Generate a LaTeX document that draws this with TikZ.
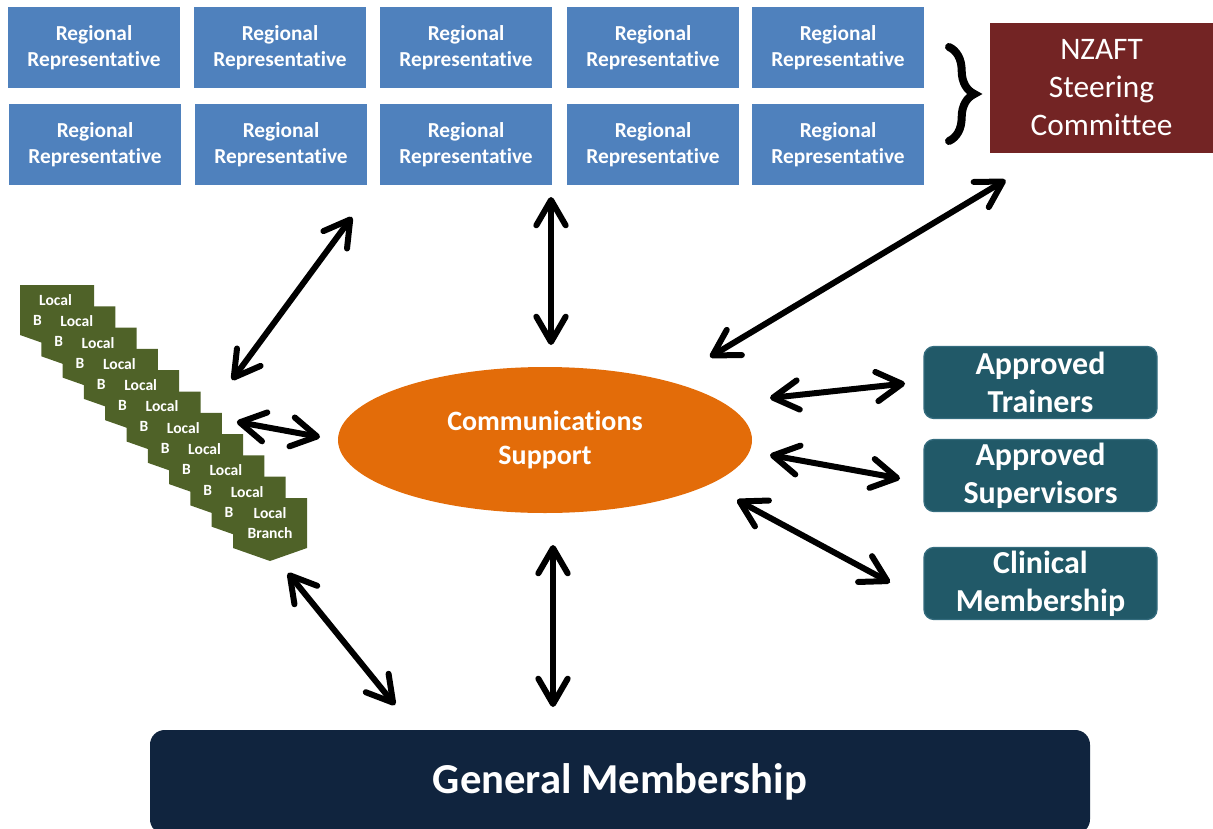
\documentclass[tikz,border=0pt]{standalone}
\usepackage{fontspec}
\setmainfont{Carlito}[Ligatures=NoCommon]
\usepackage{xcolor}
\usetikzlibrary{arrows.meta}
\usetikzlibrary{calc}
\usetikzlibrary{shapes.geometric}
\usetikzlibrary{decorations.pathreplacing}

\tikzset{
  regbox/.style={fill={rgb, 255:red, 79; green, 129; blue, 189 }, text=white, align=center, inner sep=0pt, outer sep=0pt,
    minimum width=129pt, minimum height=60.75pt, font=\bfseries\fontsize{16}{19.5}\selectfont},
  steerbox/.style={fill={rgb, 255:red, 115; green, 36; blue, 36 }, text=white, align=center, inner sep=0pt, outer sep=0pt,
    minimum width=167.25pt, minimum height=97.5pt, font=\fontsize{23.5}{28.5}\selectfont},
  commoval/.style={ellipse, fill={rgb, 255:red, 227; green, 108; blue, 9 }, text=white, align=center, inner sep=0pt, outer sep=0pt,
    minimum width=310.5pt, minimum height=109.5pt, font=\bfseries\fontsize{21}{26}\selectfont},
  tealbox/.style={rounded corners=7.5pt, fill={rgb, 255:red, 33; green, 89; blue, 104 }, draw={rgb, 255:red, 52; green, 108; blue, 126 }, line width=1pt,
    text=white, align=center, inner sep=0pt, outer sep=0pt, minimum width=174.75pt, minimum height=54pt, font=\bfseries\fontsize{24}{28.5}\selectfont},
  genbox/.style={rounded corners=11pt, fill={rgb, 255:red, 16; green, 36; blue, 62 }, text=white, align=center, inner sep=0pt, outer sep=0pt,
    minimum width=705pt, minimum height=78pt, font=\bfseries\fontsize{32}{38}\selectfont},
  brshape/.style={fill={rgb, 255:red, 79; green, 98; blue, 40 }, draw=none},
  brtext/.style={text=white, align=center, inner sep=0pt, outer sep=0pt, minimum width=55.5pt, minimum height=37.5pt,
    font=\bfseries\fontsize{11.7}{15}\selectfont},
  link/.style={<->, line width=4.5pt},
  bracket/.style={decorate, decoration={brace, amplitude=19pt}, line width=6pt, line cap=round}
}

\begin{document}
\begin{tikzpicture}[x=0.75pt,y=0.75pt,yscale=-1,xscale=1, >={Straight Barb[round,length=19pt,width=22pt]}]
\useasboundingbox (0,0) rectangle (1213,828);

% Text Node
\draw (94,47.5) node [regbox] (rr1) {Regional\\Representative};
% Text Node
\draw (280,47.5) node [regbox] (rr2) {Regional\\Representative};
% Text Node
\draw (466,47.5) node [regbox] (rr3) {Regional\\Representative};
% Text Node
\draw (653,47.5) node [regbox] (rr4) {Regional\\Representative};
% Text Node
\draw (838,47.5) node [regbox] (rr5) {Regional\\Representative};
% Text Node
\draw (95,144.5) node [regbox] (rr6) {Regional\\Representative};
% Text Node
\draw (281,144.5) node [regbox] (rr7) {Regional\\Representative};
% Text Node
\draw (466,144.5) node [regbox] (rr8) {Regional\\Representative};
% Text Node
\draw (653,144.5) node [regbox] (rr9) {Regional\\Representative};
% Text Node
\draw (838,144.5) node [regbox] (rr10) {Regional\\Representative};

% Text Node
\draw (1101.5,88) node [steerbox] (steer) {NZAFT\\Steering\\Committee};
%Curve Lines
\draw [bracket] (949,47) -- (949,141) ;

% Text Node
\draw (545,440) node [commoval] (comm) {Communications\\Support};

% Text Node
\draw (1040.5,382.5) node [tealbox] (trainers) {Approved\\Trainers};
% Text Node
\draw (1040.5,475.5) node [tealbox] (supervisors) {Approved\\Supervisors};
% Text Node
\draw (1040.5,583.5) node [tealbox] (clinical) {Clinical\\Membership};

% Text Node
\draw (620,782) node [genbox] (general) {General Membership};

%Shape: Pentagon
\draw [brshape] (20,285) -- (94,285) -- (94,335) -- (57,348) -- (20,335) -- cycle ;
\draw (55.5,310) node [brtext] (br1) {Local\\Branch};
%Shape: Pentagon
\draw [brshape] (41.3,306.3) -- (115.3,306.3) -- (115.3,356.3) -- (78.3,369.3) -- (41.3,356.3) -- cycle ;
\draw (76.8,331.3) node [brtext] (br2) {Local\\Branch};
%Shape: Pentagon
\draw [brshape] (62.6,327.6) -- (136.6,327.6) -- (136.6,377.6) -- (99.6,390.6) -- (62.6,377.6) -- cycle ;
\draw (98.1,352.6) node [brtext] (br3) {Local\\Branch};
%Shape: Pentagon
\draw [brshape] (83.9,348.9) -- (157.9,348.9) -- (157.9,398.9) -- (120.9,411.9) -- (83.9,398.9) -- cycle ;
\draw (119.4,373.9) node [brtext] (br4) {Local\\Branch};
%Shape: Pentagon
\draw [brshape] (105.2,370.2) -- (179.2,370.2) -- (179.2,420.2) -- (142.2,433.2) -- (105.2,420.2) -- cycle ;
\draw (140.7,395.2) node [brtext] (br5) {Local\\Branch};
%Shape: Pentagon
\draw [brshape] (126.5,391.5) -- (200.5,391.5) -- (200.5,441.5) -- (163.5,454.5) -- (126.5,441.5) -- cycle ;
\draw (162,416.5) node [brtext] (br6) {Local\\Branch};
%Shape: Pentagon
\draw [brshape] (147.8,412.8) -- (221.8,412.8) -- (221.8,462.8) -- (184.8,475.8) -- (147.8,462.8) -- cycle ;
\draw (183.3,437.8) node [brtext] (br7) {Local\\Branch};
%Shape: Pentagon
\draw [brshape] (169.1,434.1) -- (243.1,434.1) -- (243.1,484.1) -- (206.1,497.1) -- (169.1,484.1) -- cycle ;
\draw (204.6,459.1) node [brtext] (br8) {Local\\Branch};
%Shape: Pentagon
\draw [brshape] (190.4,455.4) -- (264.4,455.4) -- (264.4,505.4) -- (227.4,518.4) -- (190.4,505.4) -- cycle ;
\draw (225.9,480.4) node [brtext] (br9) {Local\\Branch};
%Shape: Pentagon
\draw [brshape] (211.7,476.7) -- (285.7,476.7) -- (285.7,526.7) -- (248.7,539.7) -- (211.7,526.7) -- cycle ;
\draw (247.2,501.7) node [brtext] (br10) {Local\\Branch};
%Shape: Pentagon
\draw [brshape] (233,498) -- (307,498) -- (307,548) -- (270,561) -- (233,548) -- cycle ;
\draw (270,523) node [brtext] (br11) {Local\\Branch};

%Straight Lines
\draw [link] ($(rr7.south)+(71,32)$) -- ($(br6.north east)+(33,-11.5)$) ;
%Straight Lines
\draw [link] ($(rr8.south east)+(-1,12)$) -- ($(comm.north)+(6,-22)$) ;
%Straight Lines
\draw [link] ($(steer.south)+(-96,27)$) -- ($(comm.north)+(165,-10)$) ;
%Straight Lines
\draw [link] ($(br7.east)+(16.5,-16)$) -- ($(comm.west)+(-18,-3)$) ;
%Straight Lines
\draw [link] ($(comm.east)+(18,-42)$) -- ($(trainers.west)+(-19,1)$) ;
%Straight Lines
\draw [link] ($(comm.east)+(18,15)$) -- ($(supervisors.west)+(-24,3)$) ;
%Straight Lines
\draw [link] ($(comm.east)+(-15,60)$) -- ($(clinical.west)+(-34,-1)$) ;
%Straight Lines
\draw [link] ($(br11.south)+(18,25)$) -- ($(general.north)+(-225,-25)$) ;
%Straight Lines
\draw [link] ($(comm.south)+(8,32)$) -- ($(general.north)+(-67,-23)$) ;

\end{tikzpicture}
\end{document}
